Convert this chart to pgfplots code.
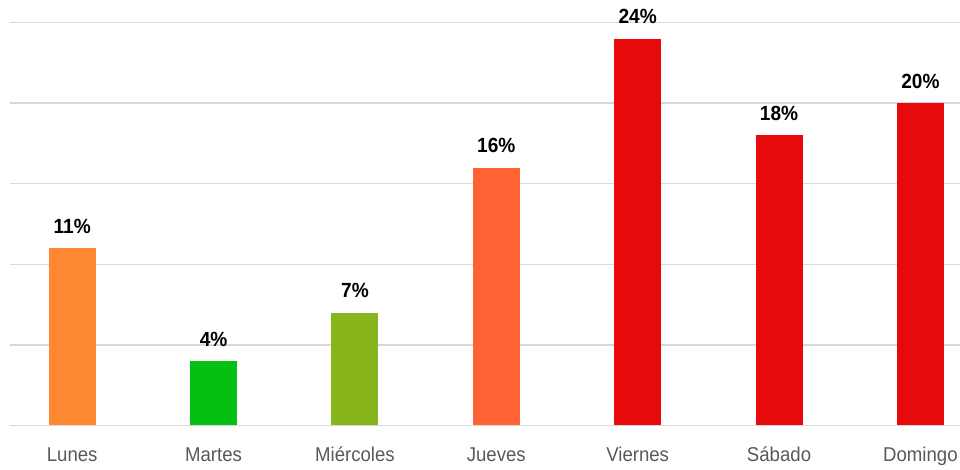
\documentclass[border=0pt]{standalone}
\usepackage{pgfplots}
\pgfplotsset{compat=1.18}
\usepackage{fontspec}
\setmainfont{Liberation Sans}[FakeStretch=0.93]
\definecolor{cLun}{RGB}{255,136,51}
\definecolor{cMar}{RGB}{5,192,16}
\definecolor{cMie}{RGB}{136,180,28}
\definecolor{cJue}{RGB}{255,99,51}
\definecolor{cRed}{RGB}{232,10,10}
\definecolor{gridc}{RGB}{217,217,217}
\definecolor{labc}{RGB}{89,89,89}
\begin{document}
\begin{tikzpicture}
\path[use as bounding box] (0,0) rectangle (960pt,470pt);
\begin{axis}[
  at={(10pt,44.5pt)}, anchor=south west,
  scale only axis, width=950pt, height=403pt,
  xmin=-0.44, xmax=6.28, ymin=0, ymax=25,
  xtick={0,1,2,3,4,5,6},
  xticklabels={Lunes,Martes,Miércoles,Jueves,Viernes,Sábado,Domingo},
  ytick={0,5,10,15,20,25}, yticklabels={},
  ymajorgrids, grid style={gridc, line width=1.5pt},
  axis line style={draw=none},
  major tick length=0pt,
  xticklabel style={font=\fontsize{20}{21}\selectfont, text=labc, anchor=base, yshift=-36.5pt},
  /pgf/number format/assume math mode=true,
  ybar, bar width=47pt, bar shift=0pt,
  nodes near coords={\pgfmathprintnumber{\pgfplotspointmeta}\%},
  every node near coord/.append style={font=\bfseries\fontsize{20.5}{21}\selectfont, text=black, anchor=base, yshift=15pt},
  clip=false,
]
\addplot[fill=cLun, draw=none] coordinates {(0,11)};
\addplot[fill=cMar, draw=none] coordinates {(1,4)};
\addplot[fill=cMie, draw=none] coordinates {(2,7)};
\addplot[fill=cJue, draw=none] coordinates {(3,16)};
\addplot[fill=cRed, draw=none] coordinates {(4,24)};
\addplot[fill=cRed, draw=none] coordinates {(5,18)};
\addplot[fill=cRed, draw=none] coordinates {(6,20)};
\end{axis}
\end{tikzpicture}
\end{document}
